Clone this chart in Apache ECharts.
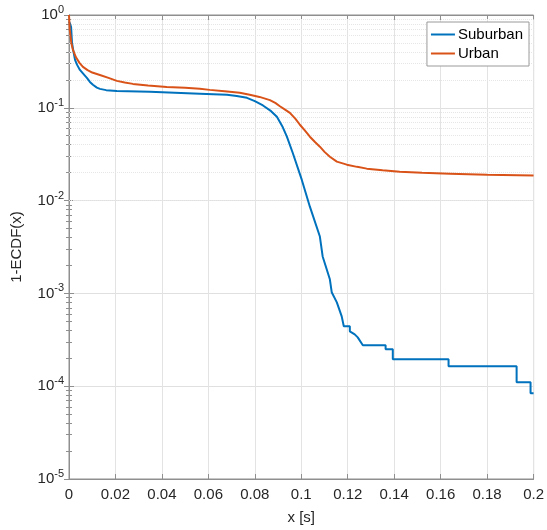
<!DOCTYPE html>
<html lang="en">
  <head>
    <meta charset="UTF-8" />
    <title>1-ECDF</title>
    <style>
      html, body { margin: 0; padding: 0; background: #fff; }
      #chart { width: 547px; height: 530px; }
    </style>
  </head>
  <body>
    <div id="chart"></div>

    <script src="https://cdn.jsdelivr.net/npm/echarts@6/dist/echarts.min.js"></script>
    <script>
      // values
      const suburbanX = [0, 0.0005, 0.0009, 0.0013, 0.0018, 0.0026, 0.0035, 0.0047, 0.006, 0.0077, 0.009, 0.0103, 0.012, 0.0133, 0.016,
        0.0206, 0.0348, 0.0563, 0.068, 0.0722, 0.0766, 0.08, 0.0835, 0.087, 0.0895, 0.092, 0.0938, 0.0963, 0.1002, 0.1037, 0.108,
        0.1092, 0.1123, 0.1131, 0.1153, 0.1174, 0.1183, 0.1209, 0.1209, 0.1217, 0.123, 0.1243, 0.1265, 0.1363, 0.1363, 0.1394, 0.1394,
        0.1634, 0.1634, 0.1927, 0.1927, 0.1987, 0.1987, 0.2];
      const suburbanY = [0.85, 0.8, 0.74, 0.5, 0.42, 0.328, 0.29, 0.256, 0.235, 0.21, 0.19, 0.177, 0.165, 0.16, 0.155,
        0.152, 0.149, 0.142, 0.138, 0.134, 0.128, 0.118, 0.106, 0.092, 0.08, 0.062, 0.0488, 0.0328, 0.0168, 0.0086, 0.0041,
        0.0025, 0.00142, 0.00103, 0.0008, 0.000566, 0.000442, 0.000442, 0.00039, 0.00039, 0.000362, 0.000336, 0.000276, 0.000276, 0.00025, 0.00025, 0.000195,
        0.000195, 0.000164, 0.000164, 0.00011, 0.00011, 0.0000841, 0.0000841];

      const urbanX = [0, 0.0003, 0.001, 0.0017, 0.003, 0.0045, 0.006, 0.008, 0.01, 0.0133, 0.017, 0.0206, 0.024, 0.0275, 0.034,
        0.0421, 0.05, 0.0563, 0.0606, 0.067, 0.0735, 0.0778, 0.082, 0.0865, 0.0888, 0.0908, 0.093, 0.0951, 0.0975, 0.0994, 0.1015,
        0.1037, 0.106, 0.108, 0.11, 0.1123, 0.1153, 0.1196, 0.124, 0.1282, 0.135, 0.1424, 0.152, 0.1639, 0.18, 0.2];
      const urbanY = [1, 0.7, 0.5, 0.42, 0.35, 0.305, 0.276, 0.255, 0.24, 0.226, 0.21, 0.195, 0.187, 0.181, 0.174,
        0.168, 0.164, 0.16, 0.156, 0.151, 0.145, 0.138, 0.131, 0.121, 0.113, 0.104, 0.0955, 0.0883, 0.076, 0.0657, 0.057,
        0.0488, 0.0425, 0.0381, 0.0335, 0.0297, 0.0263, 0.0244, 0.0231, 0.0221, 0.0212, 0.0205, 0.0199, 0.0195, 0.019, 0.0186];

      const xMin = 0, xMax = 0.2, xStep = 0.02;
      const yMin = 1e-5, yMax = 1;

      const chart = echarts.init(document.getElementById('chart'));
      const font = 'Liberation Sans, Arial, Helvetica, sans-serif';
      const boxColor = '#8f8f8f';

      const zip = (xs, ys) => xs.map((x, i) => [x, ys[i]]);

      // MATLAB-like minor log grid (2..9 in each decade)
      const minorLines = [];
      for (let d = -5; d < 0; d++) {
        for (let k = 2; k <= 9; k++) minorLines.push({ yAxis: k * Math.pow(10, d) });
      }

      const yLabel = {
        color: '#262626',
        fontFamily: font,
        fontSize: 15,
        margin: 5,
        formatter: (v) => '10{sup|' + Math.round(Math.log10(v)) + '}',
        rich: {
          sup: { fontSize: 11, fontFamily: font, color: '#262626', padding: [0, 0, 10, 0] },
        },
      };

      const tickStyle = { show: true, inside: true, length: 5, lineStyle: { color: boxColor } };
      const minorStyle = { show: true, splitNumber: 9, length: 3, lineStyle: { color: boxColor } };

      const option = {
        animation: false,
        grid: { left: 69, right: 13, top: 15, bottom: 50, show: true, borderColor: boxColor, borderWidth: 1 },
        legend: {
          orient: 'vertical',
          right: 18,
          top: 22,
          padding: [4, 6, 4, 4],
          itemGap: 2,
          itemWidth: 24,
          itemHeight: 2,
          icon: 'rect',
          borderColor: '#9a9a9a',
          borderWidth: 1,
          backgroundColor: '#fff',
          textStyle: { fontFamily: font, fontSize: 15, color: '#000', padding: [0, 0, 0, -2], lineHeight: 17 },
          data: ['Suburban', 'Urban'],
        },
        xAxis: [
          {
            type: 'value',
            min: xMin,
            max: xMax,
            interval: xStep,
            name: 'x [s]',
            nameLocation: 'middle',
            nameGap: 31,
            nameTextStyle: { fontFamily: font, fontSize: 15, color: '#262626' },
            axisLine: { show: true, onZero: false, lineStyle: { color: boxColor } },
            axisTick: tickStyle,
            axisLabel: { color: '#262626', fontFamily: font, fontSize: 15, margin: 8 },
            splitLine: { show: true, lineStyle: { color: '#e3e3e3', width: 1 } },
          },
          {
            type: 'value',
            position: 'top',
            min: xMin,
            max: xMax,
            interval: xStep,
            axisLine: { show: true, onZero: false, lineStyle: { color: boxColor } },
            axisTick: tickStyle,
            axisLabel: { show: false },
            splitLine: { show: false },
          },
        ],
        yAxis: [
          {
            type: 'log',
            logBase: 10,
            min: yMin,
            max: yMax,
            name: '1-ECDF(x)',
            nameLocation: 'middle',
            nameGap: 45,
            nameTextStyle: { fontFamily: font, fontSize: 15, color: '#262626' },
            axisLine: { show: true, lineStyle: { color: boxColor } },
            axisTick: tickStyle,
            minorTick: minorStyle,
            axisLabel: yLabel,
            splitLine: { show: true, lineStyle: { color: '#e0e0e0', width: 1 } },
          },
          {
            type: 'log',
            logBase: 10,
            position: 'right',
            min: yMin,
            max: yMax,
            axisLine: { show: true, lineStyle: { color: boxColor } },
            axisTick: tickStyle,
            minorTick: minorStyle,
            axisLabel: { show: false },
            splitLine: { show: false },
          },
        ],
        series: [
          {
            name: 'Suburban',
            type: 'line',
            data: zip(suburbanX, suburbanY),
            showSymbol: false,
            symbol: 'none',
            lineStyle: { color: '#0072BD', width: 2 },
            itemStyle: { color: '#0072BD' },
            z: 3,
            markLine: {
              silent: true,
              symbol: 'none',
              label: { show: false },
              lineStyle: { color: '#e6e6e6', type: 'dotted', width: 1 },
              data: minorLines,
              z: 1,
            },
          },
          {
            name: 'Urban',
            type: 'line',
            data: zip(urbanX, urbanY),
            showSymbol: false,
            symbol: 'none',
            lineStyle: { color: '#D95319', width: 2 },
            itemStyle: { color: '#D95319' },
            z: 4,
          },
        ],
      };

      chart.setOption(option);
    </script>
  </body>
</html>
